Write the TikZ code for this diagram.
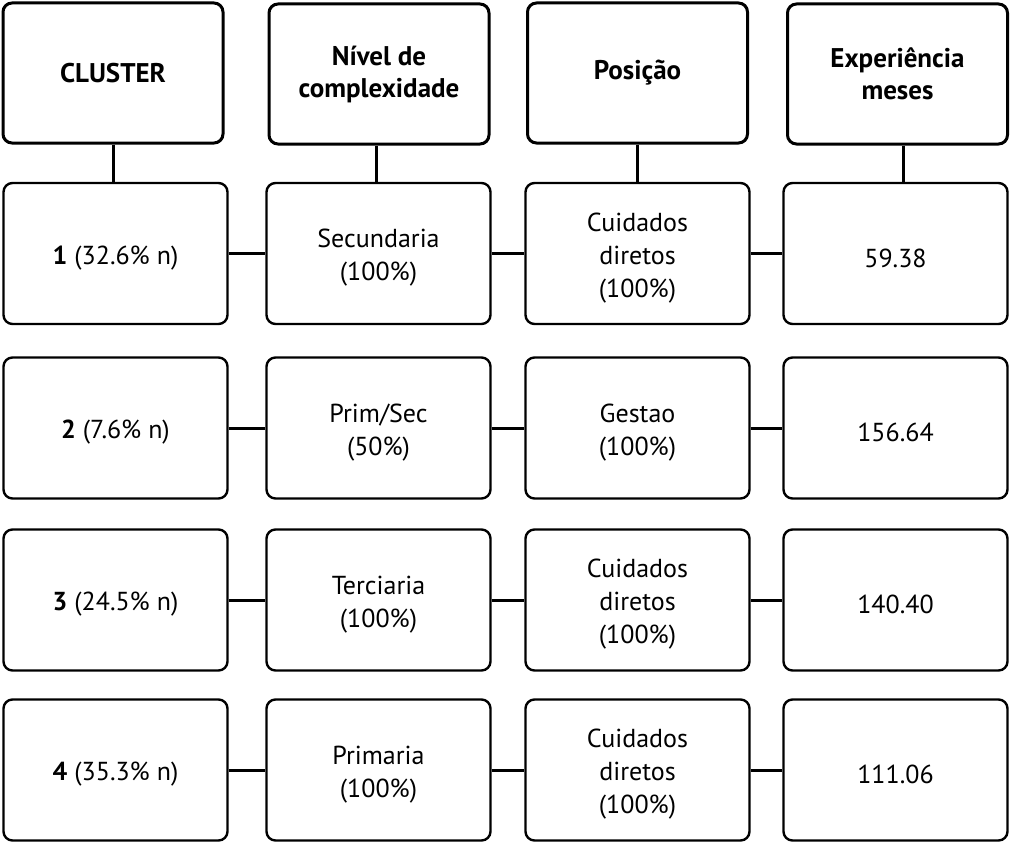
\documentclass[tikz,border=0pt]{standalone}
\usepackage{fontspec}
\setmainfont{PT Sans}
\begin{document}
\begin{tikzpicture}[x=1pt,y=-1pt,
  hbox/.style={draw, line width=3pt, rounded corners=9pt, minimum width=220pt, minimum height=140pt, align=center, font=\fontsize{27}{32}\selectfont\bfseries, inner sep=0pt},
  rtext/.style={align=center, font=\fontsize{26}{33}\selectfont, inner sep=0pt, yshift=-4.5pt},
  rbox/.style={draw, line width=2.4pt, rounded corners=9pt, minimum width=224pt, minimum height=141pt, inner sep=0pt, label={[rtext]center:#1}},
  conn/.style={line width=3pt}]
\useasboundingbox (0,0) rectangle (1011,843);
% headers
\node[hbox] (h1) at (113,73) {CLUSTER};
\node[hbox] (h2) at (379,74) {Nível de\\complexidade};
\node[hbox] (h3) at (637.5,73) {Posição};
\node[hbox] (h4) at (897.5,74) {Experiência\\meses};
% rows
\node[rbox={\textbf{1} (32.6\% n)}] (a1) at (115.5,253.5) {};
\node[rbox={Secundaria\\(100\%)}] (b1) at (378.5,253.5) {};
\node[rbox={Cuidados\\diretos\\(100\%)}] (c1) at (637.5,253.5) {};
\node[rbox={59.38}] (d1) at (895.5,253.5) {};
\node[rbox={\textbf{2} (7.6\% n)}] (a2) at (115.5,428) {};
\node[rbox={Prim/Sec\\(50\%)}] (b2) at (378.5,428) {};
\node[rbox={Gestao\\(100\%)}] (c2) at (637.5,428) {};
\node[rbox={156.64}] (d2) at (895.5,428) {};
\node[rbox={\textbf{3} (24.5\% n)}] (a3) at (115.5,600) {};
\node[rbox={Terciaria\\(100\%)}] (b3) at (378.5,600) {};
\node[rbox={Cuidados\\diretos\\(100\%)}] (c3) at (637.5,600) {};
\node[rbox={140.40}] (d3) at (895.5,600) {};
\node[rbox={\textbf{4} (35.3\% n)}] (a4) at (115.5,770) {};
\node[rbox={Primaria\\(100\%)}] (b4) at (378.5,770) {};
\node[rbox={Cuidados\\diretos\\(100\%)}] (c4) at (637.5,770) {};
\node[rbox={111.06}] (d4) at (895.5,770) {};
% vertical connectors
\draw[conn] (h1.south) -- (h1.south |- a1.north);
\draw[conn] (h2.south -| 376,0) -- (376,0 |- b1.north);
\draw[conn] (h3.south) -- (h3.south |- c1.north);
\draw[conn] (h4.south -| 903,0) -- (903,0 |- d1.north);
% horizontal connectors
\foreach \r in {1,2,3,4}{
  \draw[conn] (a\r.east) -- (b\r.west);
  \draw[conn] (b\r.east) -- (c\r.west);
  \draw[conn] (c\r.east) -- (d\r.west);
}
\end{tikzpicture}
\end{document}
